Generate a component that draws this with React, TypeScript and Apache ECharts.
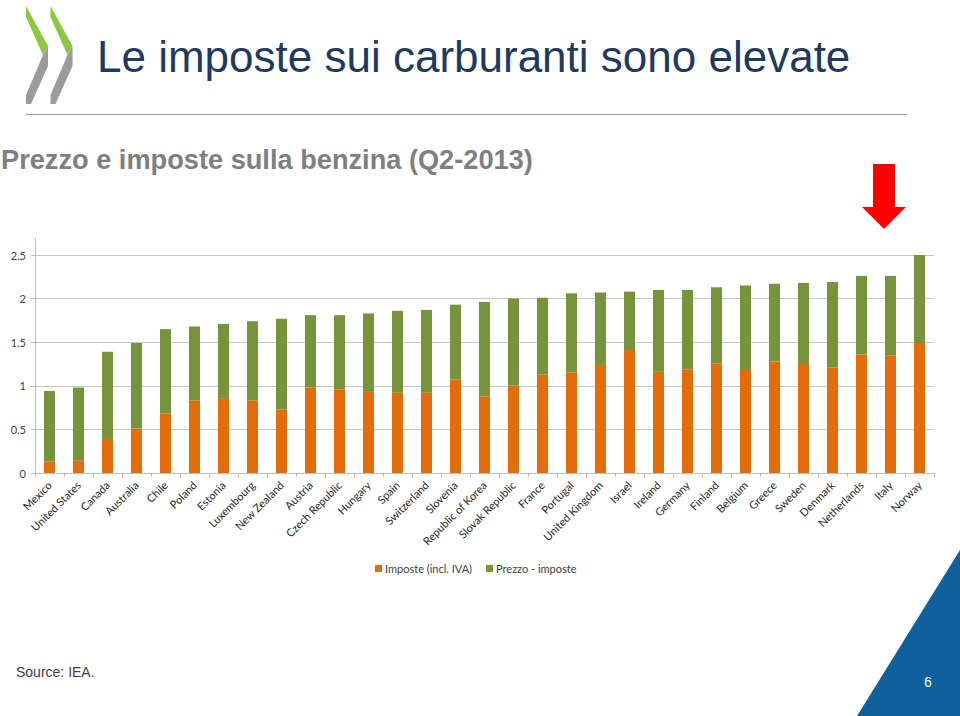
import React, { useEffect, useRef } from "react";
import * as echarts from "echarts";

const countries = [
  "Mexico", "United States", "Canada", "Australia", "Chile", "Poland", "Estonia",
  "Luxembourg", "New Zealand", "Austria", "Czech Republic", "Hungary", "Spain",
  "Switzerland", "Slovenia", "Republic of Korea", "Slovak Republic", "France",
  "Portugal", "United Kingdom", "Israel", "Ireland", "Germany", "Finland",
  "Belgium", "Greece", "Sweden", "Denmark", "Netherlands", "Italy", "Norway",
];

// Imposte (incl. IVA)
const taxes = [
  0.13, 0.14, 0.39, 0.51, 0.68, 0.83, 0.85, 0.83, 0.73, 0.98, 0.96, 0.93, 0.92,
  0.92, 1.07, 0.88, 1.0, 1.13, 1.15, 1.24, 1.41, 1.16, 1.19, 1.26, 1.18, 1.28,
  1.25, 1.21, 1.36, 1.35, 1.49,
];

// Prezzo - imposte
const priceExTax = [
  0.81, 0.84, 1.0, 0.98, 0.97, 0.85, 0.86, 0.91, 1.04, 0.83, 0.85, 0.9, 0.94,
  0.95, 0.86, 1.08, 1.0, 0.88, 0.91, 0.83, 0.67, 0.94, 0.91, 0.87, 0.97, 0.89,
  0.93, 0.98, 0.9, 0.91, 1.01,
];

const seriesNames = ["Imposte (incl. IVA)", "Prezzo - imposte"];
const yTicks = { min: 0, max: 2.5, interval: 0.5 };

const titleText = "Le imposte sui carburanti sono elevate";
const subtitleText = "Prezzo e imposte sulla benzina (Q2-2013)";
const sourceText = "Source: IEA.";
const pageNumber = "6";

export default function App() {
  const ref = useRef<HTMLDivElement>(null);

  useEffect(() => {
    if (!ref.current) return;
    const chart = echarts.init(ref.current, null, { renderer: "svg" });
    const logoGreen = "#8fc640";
    const logoGray = "#9b9b9b";
    const chevron = (dx: number) => [
      {
        type: "polygon",
        shape: { points: [[26 + dx, 6], [48 + dx, 46], [43 + dx, 55], [26 + dx, 17]] },
        style: { fill: logoGreen },
        silent: true,
      },
      {
        type: "polygon",
        shape: {
          points: [[48 + dx, 46], [48 + dx, 66], [31 + dx, 104], [26 + dx, 104], [26 + dx, 95], [43 + dx, 55]],
        },
        style: { fill: logoGray },
        silent: true,
      },
    ];

    chart.setOption({
      animation: false,
      backgroundColor: "#ffffff",
      color: ["#e46c0a", "#77933c"],
      grid: { left: 35, right: 26, top: 255, bottom: 243, containLabel: false },
      legend: {
        data: seriesNames,
        left: 370,
        top: 558,
        icon: "rect",
        itemWidth: 7,
        itemHeight: 7,
        itemGap: 14,
        textStyle: { fontFamily: "Lato", fontSize: 11, color: "#404040", padding: [0, 0, 0, -2] },
      },
      xAxis: {
        type: "category",
        data: countries,
        axisLine: { show: true, lineStyle: { color: "#bfbfbf" } },
        axisTick: { show: true, length: 4, lineStyle: { color: "#bfbfbf" } },
        axisLabel: {
          rotate: 45,
          interval: 0,
          margin: 10,
          fontFamily: "Lato",
          fontSize: 11,
          color: "#262626",
        },
      },
      yAxis: {
        type: "value",
        min: yTicks.min,
        max: yTicks.max,
        interval: yTicks.interval,
        axisLine: { show: true, lineStyle: { color: "#bfbfbf" } },
        axisTick: { show: true, length: 4, lineStyle: { color: "#bfbfbf" } },
        splitLine: { lineStyle: { color: "#c6c6c6" } },
        axisLabel: { fontFamily: "Lato", fontSize: 11, color: "#404040", margin: 9 },
      },
      series: [
        {
          name: seriesNames[0],
          type: "bar",
          stack: "total",
          data: taxes,
          barWidth: 11,
        },
        {
          name: seriesNames[1],
          type: "bar",
          stack: "total",
          data: priceExTax,
          barWidth: 11,
        },
      ],
      graphic: [
        ...chevron(0),
        ...chevron(24.5),
        {
          type: "text",
          x: 97,
          y: 56,
          style: {
            text: titleText,
            fill: "#1f3a60",
            font: "44px 'Liberation Sans', Arial, sans-serif",
            verticalAlign: "middle",
          },
          silent: true,
        },
        {
          type: "line",
          shape: { x1: 26, y1: 114.5, x2: 907, y2: 114.5 },
          style: { stroke: "#9a9a9a", lineWidth: 1 },
          silent: true,
        },
        {
          type: "text",
          x: 1,
          y: 159,
          style: {
            text: subtitleText,
            fill: "#7f7f7f",
            font: "bold 27.2px 'Liberation Sans', Arial, sans-serif",
            verticalAlign: "middle",
          },
          silent: true,
        },
        {
          type: "polygon",
          shape: {
            points: [[873, 164], [895, 164], [895, 207], [906, 207], [884, 229], [862, 207], [873, 207]],
          },
          style: { fill: "#ff0000" },
          silent: true,
        },
        {
          type: "line",
          shape: { x1: 35.5, y1: 238, x2: 35.5, y2: 255 },
          style: { stroke: "#bfbfbf", lineWidth: 1 },
          silent: true,
        },
        {
          type: "polygon",
          shape: { points: [[960, 550], [960, 716], [857, 716]] },
          style: { fill: "#10609b" },
          silent: true,
        },
        {
          type: "text",
          x: 928,
          y: 682,
          style: {
            text: pageNumber,
            fill: "#ffffff",
            font: "14px 'Liberation Sans', Arial, sans-serif",
            align: "center",
            verticalAlign: "middle",
          },
          silent: true,
        },
        {
          type: "text",
          x: 16,
          y: 672,
          style: {
            text: sourceText,
            fill: "#404040",
            font: "14px 'Liberation Sans', Arial, sans-serif",
            verticalAlign: "middle",
          },
          silent: true,
        },
      ],
    });
    return () => chart.dispose();
  }, []);

  return (
    <div
      ref={ref}
      style={{ position: "absolute", left: 0, top: 0, width: 960, height: 716 }}
    />
  );
}
